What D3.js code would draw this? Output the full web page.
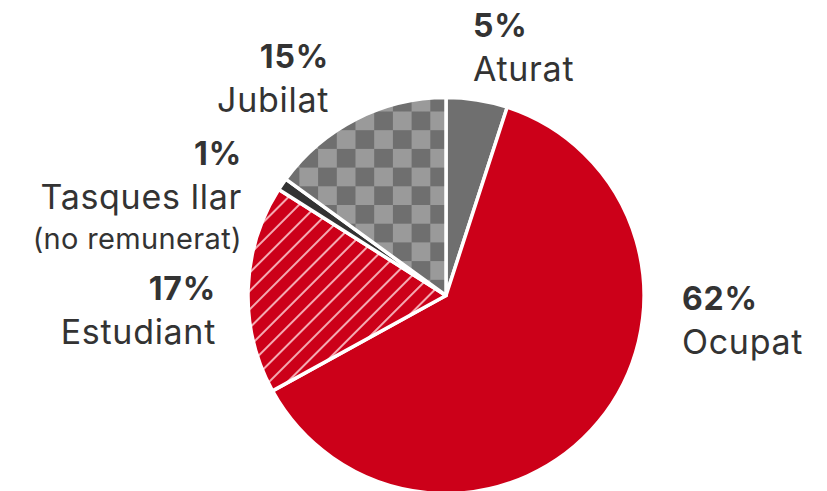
<!DOCTYPE html>
<html>
<head>
<meta charset="utf-8">
<script src="https://cdn.jsdelivr.net/npm/d3@7"></script>
<style>
  html, body { margin: 0; padding: 0; background: #ffffff; }
  svg { display: block; }
  text { font-family: Inter, "Noto Sans", sans-serif; fill: #333333; }
</style>
</head>
<body>
<svg id="chart" width="827" height="491"></svg>
<script>
// Situació laboral (percentatges)
const categories = ["Aturat", "Ocupat", "Estudiant", "Tasques llar", "Jubilat"];
const values = [5, 62, 17, 1, 15];
const subLabels = ["", "", "", "(no remunerat)", ""];

// Layout
const width = 827, height = 491;
const cx = 446, cy = 295.5, radius = 198;
const fills = ["#6f6f6f", "#cc0019", "url(#hatch)", "#333333", "url(#checker)"];
// Label anchor points: [x, first baseline y, text-anchor]
const labelLayout = [
  [473, 37, "start"],
  [682, 310, "start"],
  [216, 300, "end"],
  [242, 165, "end"],
  [329, 68, "end"]
];
const lineGap = 44;

const svg = d3.select("#chart");
const defs = svg.append("defs");

// Diagonal white stripes over red
const hatch = defs.append("pattern")
  .attr("id", "hatch")
  .attr("patternUnits", "userSpaceOnUse")
  .attr("width", 13).attr("height", 13)
  .attr("patternTransform", "rotate(45)");
hatch.append("rect").attr("width", 13).attr("height", 13).attr("fill", "#cc0019");
hatch.append("rect").attr("x", 0).attr("y", 0).attr("width", 2).attr("height", 13)
  .attr("fill", "#f4aab2");

// Gray checkerboard
const cell = 18.7;
const checker = defs.append("pattern")
  .attr("id", "checker")
  .attr("patternUnits", "userSpaceOnUse")
  .attr("x", 3).attr("y", 3)
  .attr("width", cell * 2).attr("height", cell * 2);
checker.append("rect").attr("width", cell * 2).attr("height", cell * 2).attr("fill", "#9a9a9a");
checker.append("rect").attr("x", 0).attr("y", 0).attr("width", cell).attr("height", cell).attr("fill", "#6f6f6f");
checker.append("rect").attr("x", cell).attr("y", cell).attr("width", cell).attr("height", cell).attr("fill", "#6f6f6f");

const data = categories.map((c, i) => ({ name: c, value: values[i], sub: subLabels[i], i }));

const pie = d3.pie().sort(null).value(d => d.value);
const arc = d3.arc().innerRadius(0).outerRadius(radius);

const g = svg.append("g").attr("transform", `translate(${cx},${cy})`);

g.selectAll("path.slice")
  .data(pie(data))
  .join("path")
  .attr("class", "slice")
  .attr("d", arc)
  .attr("fill", d => fills[d.data.i])
  .attr("stroke", "#ffffff")
  .attr("stroke-width", 3.5)
  .attr("stroke-linejoin", "round");

// Labels: bold percentage, then category name (and an optional note)
const labels = svg.selectAll("g.label")
  .data(data)
  .join("g")
  .attr("class", "label");

labels.each(function(d) {
  const [x, y, anchor] = labelLayout[d.i];
  const sel = d3.select(this);
  sel.append("text")
    .attr("x", x).attr("y", y)
    .attr("text-anchor", anchor)
    .attr("font-size", 32)
    .attr("font-weight", 700)
    .attr("letter-spacing", 0.8)
    .text(d3.format(".0f")(d.value) + "%");
  sel.append("text")
    .attr("x", x).attr("y", y + lineGap)
    .attr("text-anchor", anchor)
    .attr("font-size", 34)
    .attr("letter-spacing", 0.7)
    .text(d.name);
  if (d.sub) {
    sel.append("text")
      .attr("x", x).attr("y", y + lineGap * 1.9)
      .attr("text-anchor", anchor)
      .attr("font-size", 29)
      .attr("letter-spacing", 0.35)
      .text(d.sub);
  }
});
</script>
</body>
</html>
